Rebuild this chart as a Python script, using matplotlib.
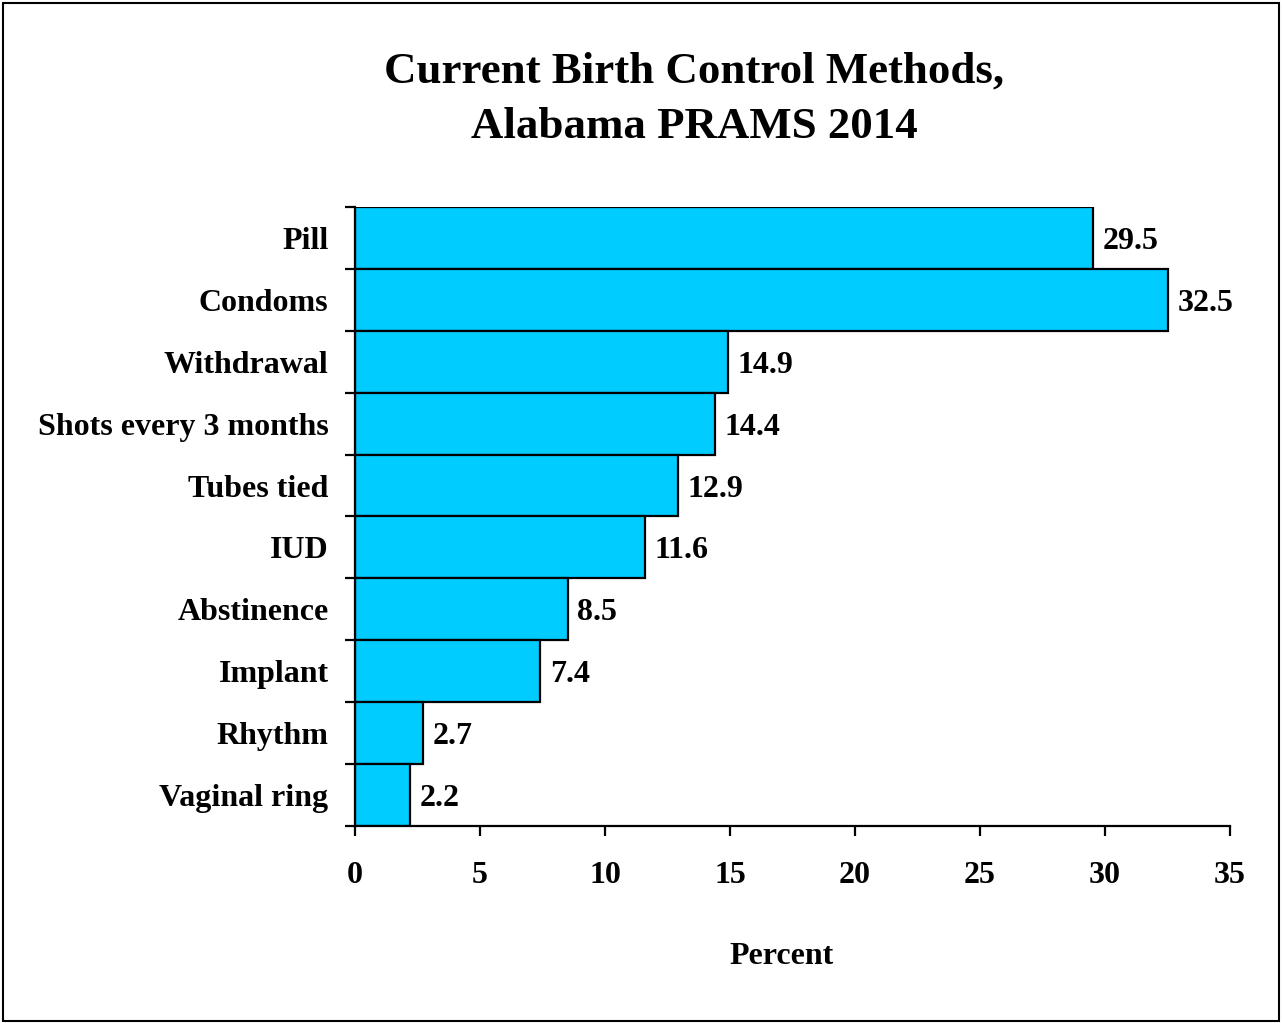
import matplotlib.pyplot as plt
from matplotlib.patches import Rectangle
import numpy as np

# data
methods = ["Pill", "Condoms", "Withdrawal", "Shots every 3 months", "Tubes tied",
           "IUD", "Abstinence", "Implant", "Rhythm", "Vaginal ring"]
percents = [29.5, 32.5, 14.9, 14.4, 12.9, 11.6, 8.5, 7.4, 2.7, 2.2]
xticks = [0, 5, 10, 15, 20, 25, 30, 35]

plt.rcParams['font.family'] = ['Liberation Serif', 'DejaVu Serif']
plt.rcParams['font.weight'] = 'bold'

fig = plt.figure(figsize=(12.82, 10.23), dpi=100)
ax = fig.add_axes([355/1282, 1 - 826/1023, 875/1282, 619/1023])

ypos = np.arange(len(methods))
ax.barh(ypos, percents, height=1.0, color='#00CCFF', edgecolor='black', linewidth=1.6)

for y, v in zip(ypos, percents):
    ax.annotate(f"{v:.1f}", (v, y), xytext=(7, 0), textcoords='offset points',
                va='center_baseline', ha='left', fontsize=23, fontweight='bold')

ax.set_ylim(len(methods) - 0.5, -0.5)
ax.set_xlim(0, 35)
ax.set_yticks(ypos)
ax.set_yticklabels(methods, fontsize=23, fontweight='bold')
ax.tick_params(axis='y', which='major', length=0, pad=19)
ax.set_yticks(np.arange(len(methods) + 1) - 0.5, minor=True)
ax.tick_params(axis='y', which='minor', length=7, width=1.6, direction='out')

ax.set_xticks(xticks)
ax.set_xticklabels([str(t) for t in xticks], fontsize=23, fontweight='bold')
ax.tick_params(axis='x', length=7, width=1.6, direction='out', pad=18)

for s in ['top', 'right']:
    ax.spines[s].set_visible(False)
for s in ['left', 'bottom']:
    ax.spines[s].set_linewidth(1.6)

ax.set_xlabel("Percent", fontsize=23, fontweight='bold')
ax.xaxis.set_label_coords(0.487, -0.187)

fig.text(694/1282, 1 - 99/1023, "Current Birth Control Methods,\nAlabama PRAMS 2014",
         ha='center', va='center', fontsize=32.3, fontweight='bold', linespacing=1.5)

fig.patches.append(Rectangle((3/1282, 2/1023), 1276/1282, 1018/1023, transform=fig.transFigure,
                             fill=False, edgecolor='black', linewidth=1.5))

fig.savefig("out.png", dpi=100)
